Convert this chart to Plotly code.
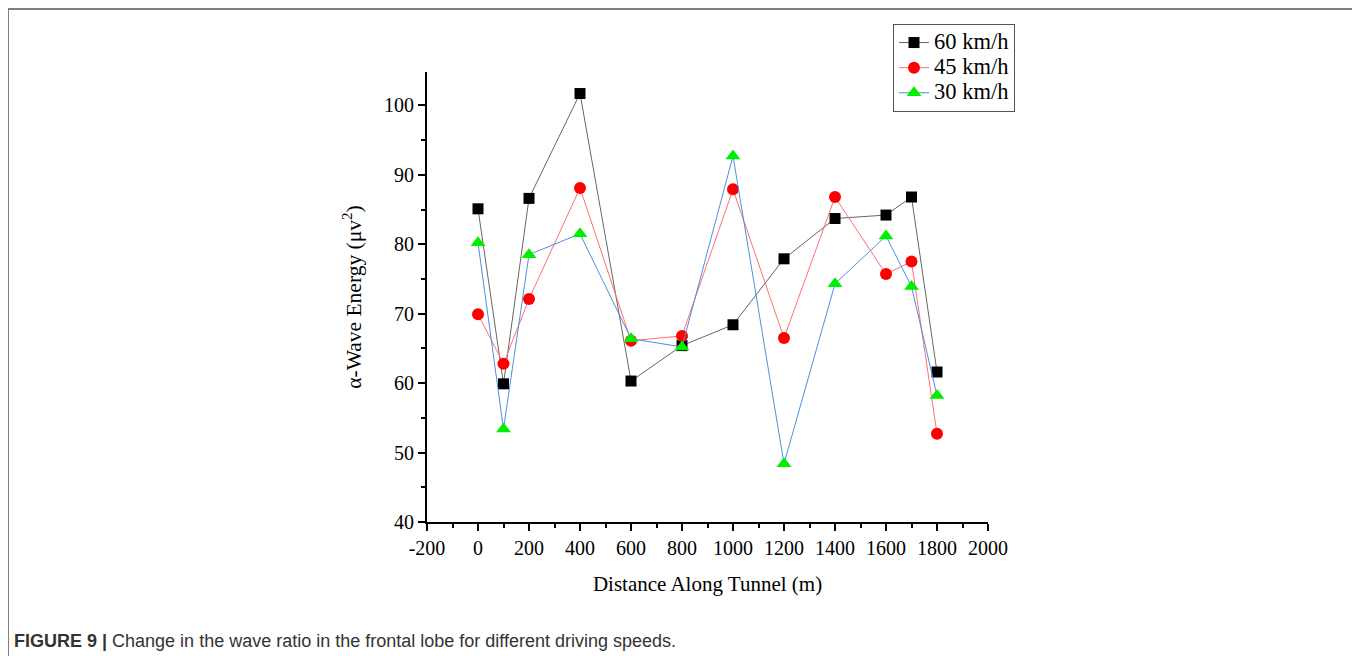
import plotly.graph_objects as go

distance = [0, 100, 200, 400, 600, 800, 1000, 1200, 1400, 1600, 1700, 1800]
speed_60 = [85.1, 59.9, 86.6, 101.7, 60.3, 65.4, 68.4, 77.9, 83.7, 84.2, 86.8, 61.6]
speed_45 = [69.9, 62.8, 72.1, 88.1, 66.1, 66.8, 87.9, 66.5, 86.8, 75.7, 77.5, 52.7]
speed_30 = [80.2, 53.4, 78.5, 81.5, 66.4, 65.2, 92.7, 48.4, 74.3, 81.2, 73.9, 58.2]
series_names = ["60 km/h", "45 km/h", "30 km/h"]
x_ticks = [-200, 0, 200, 400, 600, 800, 1000, 1200, 1400, 1600, 1800, 2000]
y_ticks = [40, 50, 60, 70, 80, 90, 100]

# page body has an 8px margin; figure is sized to fill the rest of the window
OFF = 8
W, H = 1360 - OFF, 656 - OFF
PL, PR, PT, PB = 427, 988, 72, 522  # plot area in screen coordinates
L, R, T, B = PL - OFF, W - (PR - OFF), PT - OFF, H - (PB - OFF)
pw, ph = PR - PL, PB - PT


def px(x):
    return (x - PL) / pw


def py(y):
    return (PB - y) / ph


def legend_label(s):
    return f'<span style="font-size:22.5px">{s}</span>'


fig = go.Figure()
fig.add_trace(go.Scatter(x=distance, y=speed_60, name=legend_label(series_names[0]), mode="lines+markers",
                         line=dict(color="#666666", width=1),
                         marker=dict(symbol="square", size=11, color="black")))
fig.add_trace(go.Scatter(x=distance, y=speed_45, name=legend_label(series_names[1]), mode="lines+markers",
                         line=dict(color="#ff6f6f", width=1),
                         marker=dict(symbol="circle", size=12, color="#ff0000")))
fig.add_trace(go.Scatter(x=distance, y=speed_30, name=legend_label(series_names[2]), mode="lines+markers",
                         line=dict(color="#4a90e2", width=1),
                         marker=dict(symbol="triangle-up", size=13, color="#00ee00")))

serif = "Liberation Serif, Times New Roman, serif"

fig.update_layout(
    width=W, height=H,
    margin=dict(l=L, r=R, t=T, b=B, autoexpand=False),
    paper_bgcolor="white", plot_bgcolor="white",
    font=dict(family=serif, size=20, color="black"),
    showlegend=True,
    legend=dict(x=px(893), y=py(24), xanchor="left", yanchor="top",
                bordercolor="#555555", borderwidth=1, bgcolor="white",
                font=dict(family=serif, size=17, color="black"),
                tracegroupgap=0, itemwidth=30),
    xaxis=dict(range=[-200, 2000], tickvals=x_ticks, ticktext=[str(v) for v in x_ticks],
               showgrid=False, zeroline=False, showline=True, linecolor="black", linewidth=2,
               ticks="outside", ticklen=7, tickwidth=2, tickcolor="black",
               minor=dict(dtick=100, tick0=-200, ticks="outside", ticklen=4, tickwidth=1.5, tickcolor="black"),
               title=dict(text="Distance Along Tunnel (m)", font=dict(family=serif, size=21), standoff=18)),
    yaxis=dict(range=[40, 104.8], tickvals=y_ticks, ticktext=[str(v) for v in y_ticks],
               showgrid=False, zeroline=False, showline=True, linecolor="black", linewidth=2,
               ticks="outside", ticklen=7, tickwidth=2, tickcolor="black",
               minor=dict(dtick=5, tick0=40, ticks="outside", ticklen=4, tickwidth=1.5, tickcolor="black"),
               title=dict(text="α-Wave Energy (μv<sup>2</sup>)", font=dict(family=serif, size=21.5), standoff=16)),
    shapes=[
        dict(type="path", xref="paper", yref="paper",
             path=f"M {px(8)} {py(700)} L {px(8)} {py(9)} L {px(1356)} {py(9)} L {px(1356)} {py(700)}",
             line=dict(color="#808080", width=2)),
    ],
    annotations=[
        dict(xref="paper", yref="paper", x=px(12), y=py(641), xanchor="left", yanchor="middle",
             showarrow=False,
             text="<b>FIGURE 9 |</b> Change in the wave ratio in the frontal lobe for different driving speeds.",
             font=dict(family="Liberation Sans, Arial, sans-serif", size=18, color="#333333")),
    ],
)

fig.write_html("out.html")
